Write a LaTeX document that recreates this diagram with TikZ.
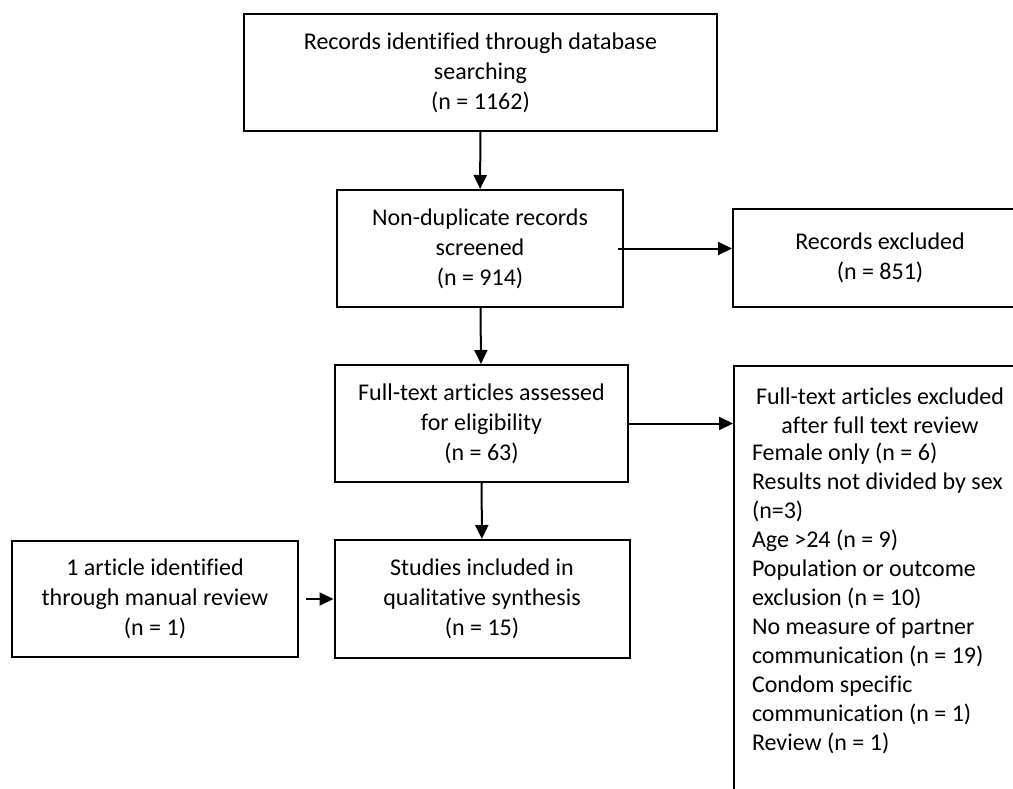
\documentclass[tikz,border=0pt]{standalone}
\usepackage{fontspec}
\setmainfont{Carlito}[Ligatures={NoCommon}]
\usetikzlibrary{arrows.meta}

\begin{document}
\begin{tikzpicture}[x=1pt, y=-1pt, line width=2pt, >={Triangle[length=14pt, width=13pt]}]
  \useasboundingbox (0,0) rectangle (1013,788);
  \clip (0,0) rectangle (1013,788);

  % Boxes
  \begin{scope}[every node/.style={draw, shape=rectangle, align=center, inner sep=0pt, font=\fontsize{24}{30}\selectfont}]
    \node[minimum width=473pt, minimum height=117pt] (search) at (480.5,72.5) {Records identified through database\\searching\\(n = 1162)};
    \node[minimum width=286pt, minimum height=117pt] (screen) at (480,248.5) {Non-duplicate records\\screened\\(n = 914)};
    \node[minimum width=294pt, minimum height=98pt] (excl) at (880,258) {Records excluded\\(n = 851)};
    \node[minimum width=293pt, minimum height=117pt] (fulltext) at (481.5,423.5) {Full-text articles assessed\\for eligibility\\(n = 63)};
    \node[minimum width=295pt, minimum height=118pt] (incl) at (482,599) {Studies included in\\qualitative synthesis\\(n = 15)};
    \node[minimum width=286pt, minimum height=116pt] (manual) at (155,599) {1 article identified\\through manual review\\(n = 1)};
    \node[minimum width=294pt, minimum height=480pt, anchor=north west] (ftex) at (733,365) {};
  \end{scope}

  % Excluded list
  \begin{scope}[every node/.style={inner sep=0pt, font=\fontsize{24}{29}\selectfont}]
    \node[align=center, anchor=north] (ftexhead) at (880,387) {Full-text articles excluded\\after full text review};
    \node[align=left, anchor=north west] (ftexlist) at (751,442) {Female only (n = 6)\\Results not divided by sex\\(n=3)\\Age >24 (n = 9)\\Population or outcome\\exclusion (n = 10)\\No measure of partner\\communication (n = 19)\\Condom specific\\communication (n = 1)\\Review (n = 1)};
  \end{scope}

  % Arrows
  \draw[->] (search) -- (screen);
  \draw[->] (screen) -- (fulltext);
  \draw[->] (fulltext) -- (incl);
  \draw[->] ([xshift=-6pt]screen.east) -- (screen.east -| excl.west);
  \draw[->] (fulltext.east) -- (fulltext.east -| ftex.west);
  \draw[->] ([xshift=7pt]manual.east) -- (incl.west);
\end{tikzpicture}
\end{document}
